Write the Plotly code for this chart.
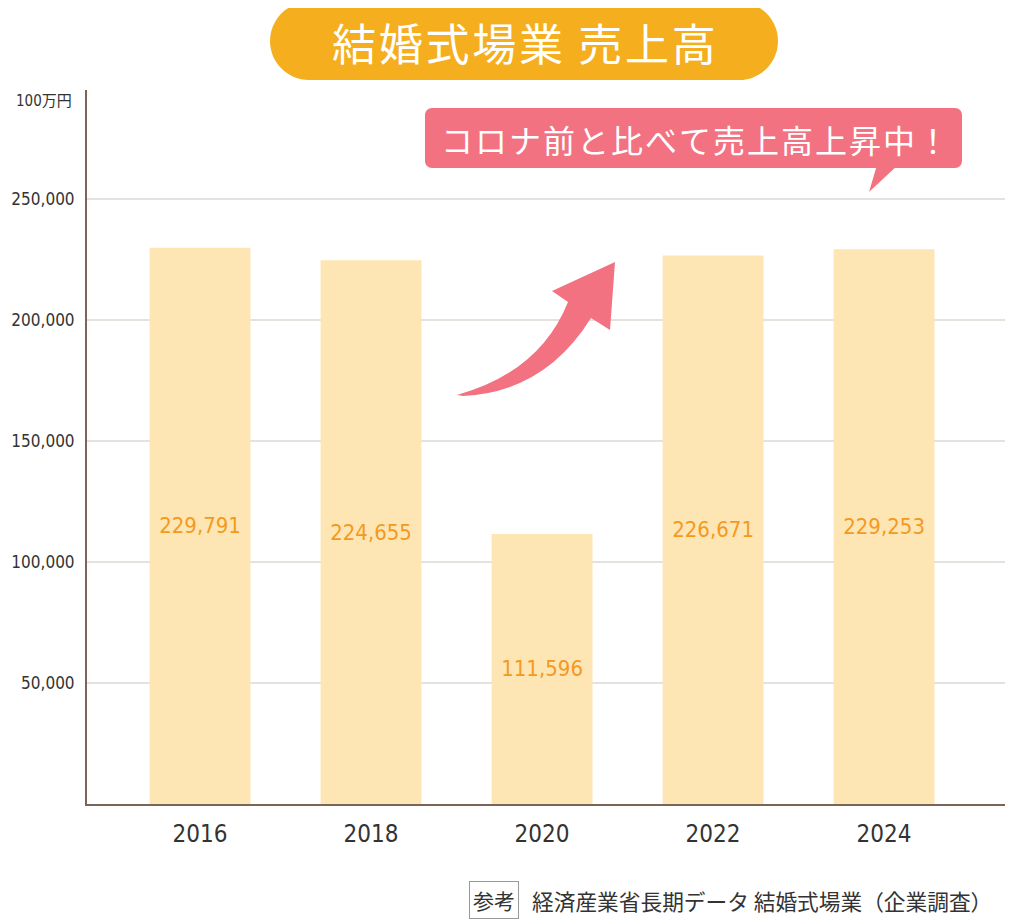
import plotly.graph_objects as go

# ---- data ----
years = ["2016", "2018", "2020", "2022", "2024"]
sales = [229791, 224655, 111596, 226671, 229253]
ytick_vals = [50000, 100000, 150000, 200000, 250000]
ytick_text = ["50,000", "100,000", "150,000", "200,000", "250,000"]
title_text = "結婚式場業 売上高"
unit_text = "100万円"
callout_text = "コロナ前と比べて売上高上昇中！"
source_label = "参考"
source_text = "経済産業省長期データ 結婚式場業（企業調査）"

# ---- geometry helpers (page pixel -> paper); page has an 8px body margin ----
OFF = 8
W, H = 1013 - OFF, 919 - OFF
PL, PR, PT, PB = 87, 1013, 90, 804          # plot area in page pixels
L, R, T, B = PL - OFF, (1013 - OFF) - (PR - OFF), PT - OFF, H - (PB - OFF)
pw, ph = W - L - R, H - T - B


def px(x):
    return (x - PL) / pw


def py(y):
    return (PB - y) / ph


def pt(x, y):
    return f"{px(x):.5f},{py(y):.5f}"


def rrect(x0, y0, x1, y1, r):
    k = 0.5523 * r
    return (f"M {pt(x0 + r, y0)} L {pt(x1 - r, y0)} "
            f"C {pt(x1 - r + k, y0)} {pt(x1, y0 + r - k)} {pt(x1, y0 + r)} "
            f"L {pt(x1, y1 - r)} "
            f"C {pt(x1, y1 - r + k)} {pt(x1 - r + k, y1)} {pt(x1 - r, y1)} "
            f"L {pt(x0 + r, y1)} "
            f"C {pt(x0 + r - k, y1)} {pt(x0, y1 - r + k)} {pt(x0, y1 - r)} "
            f"L {pt(x0, y0 + r)} "
            f"C {pt(x0, y0 + r - k)} {pt(x0 + r - k, y0)} {pt(x0 + r, y0)} Z")


NUMFONT = "DejaVu Sans Condensed, Liberation Sans Narrow, Noto Sans CJK JP, sans-serif"
JPFONT = "Noto Sans CJK JP, sans-serif"
PINK = "#F27282"
ORANGE = "#F5AE1E"
AXIS = "#7B6557"

fig = go.Figure()
fig.add_trace(go.Bar(
    x=years, y=sales,
    text=[f"{v:,}" for v in sales],
    textposition="inside", insidetextanchor="middle", textangle=0,
    textfont=dict(family=NUMFONT, size=22, color="#F39A1E"),
    marker=dict(color="#FEE6B4", line=dict(width=0)),
    width=0.59, hoverinfo="skip",
))

shapes = [
    # title pill
    dict(type="path", xref="paper", yref="paper", path=rrect(270, 2, 778, 80, 39),
         fillcolor=ORANGE, line=dict(width=0), layer="above"),
    # callout bubble
    dict(type="path", xref="paper", yref="paper", path=rrect(425, 108, 962, 168, 7),
         fillcolor=PINK, line=dict(width=0), layer="above"),
    dict(type="path", xref="paper", yref="paper",
         path=f"M {pt(877, 165)} L {pt(898, 165)} L {pt(869, 192)} Z",
         fillcolor=PINK, line=dict(width=0), layer="above"),
    # curved up arrow
    dict(type="path", xref="paper", yref="paper",
         path=(f"M {pt(457, 395)} Q {pt(540, 372)} {pt(568, 302)} "
               f"L {pt(552, 291)} L {pt(615, 262)} L {pt(610, 330)} L {pt(591, 318)} "
               f"Q {pt(545, 392)} {pt(463, 396)} Z"),
         fillcolor=PINK, line=dict(width=0), layer="above"),
]

annotations = [
    dict(text="\u200a".join(title_text), x=px(524), y=py(42), xref="paper", yref="paper",
         showarrow=False, xanchor="center", yanchor="middle",
         font=dict(family=JPFONT, size=44, color="white")),
    dict(text="\u200a".join(callout_text), x=px(695), y=py(139), xref="paper", yref="paper",
         showarrow=False, xanchor="center", yanchor="middle",
         font=dict(family=JPFONT, size=32, color="white")),
    dict(text=unit_text, x=px(74), y=py(101), xref="paper", yref="paper",
         showarrow=False, xanchor="right", yanchor="middle",
         font=dict(family=NUMFONT, size=15, color="#333333")),
    dict(text=source_label, x=px(494), y=py(900), xref="paper", yref="paper",
         showarrow=False, xanchor="center", yanchor="middle",
         bordercolor="#999999", borderwidth=1, borderpad=3,
         font=dict(family=JPFONT, size=21, color="#333333")),
    dict(text=source_text, x=px(530), y=py(900), xref="paper", yref="paper",
         showarrow=False, xanchor="left", yanchor="middle",
         font=dict(family=JPFONT, size=21.7, color="#333333")),
]

fig.update_layout(
    width=W, height=H,
    margin=dict(l=L, r=R, t=T, b=B, autoexpand=False),
    paper_bgcolor="white", plot_bgcolor="white",
    showlegend=False,
    shapes=shapes, annotations=annotations,
    xaxis=dict(type="category", range=[-0.661, 4.754], showline=True,
               linecolor=AXIS, linewidth=2, ticks="", showgrid=False,
               tickfont=dict(family=NUMFONT, size=24, color="#333333"),
               ticklabelstandoff=7, fixedrange=True, automargin=False),
    yaxis=dict(range=[0, 295000], tickvals=ytick_vals, ticktext=ytick_text,
               showline=True, linecolor=AXIS, linewidth=2, ticks="",
               showgrid=True, gridcolor="#E5E1DD", gridwidth=1.5, zeroline=False,
               tickfont=dict(family=NUMFONT, size=17, color="#333333"),
               ticklabelstandoff=7, fixedrange=True, automargin=False),
)

fig.write_html("out.html")
